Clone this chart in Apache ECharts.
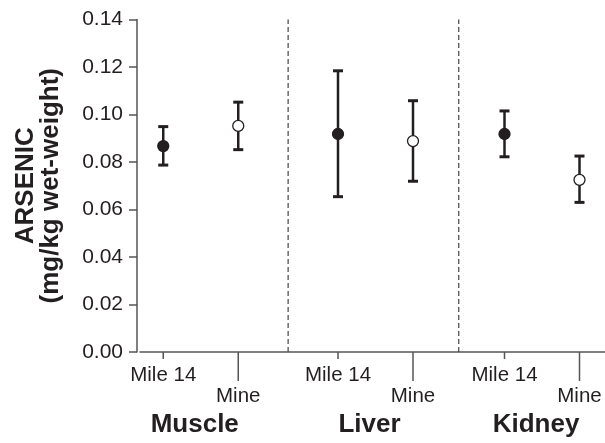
<!DOCTYPE html>
<html>
<head>
<meta charset="utf-8">
<script src="https://cdn.jsdelivr.net/npm/echarts@6/dist/echarts.min.js"></script>
<style>html,body{margin:0;padding:0;background:#fff}#c{width:605px;height:443px}</style>
</head>
<body>
<div id="c"></div>
<script>
// ---- data ----
var categories = ['Mile 14', 'Mine', 'Mile 14', 'Mine', 'Mile 14', 'Mine'];
var groups = ['Muscle', 'Liver', 'Kidney'];
var groupOf = [0, 0, 1, 1, 2, 2];
var xPositions = [1, 2, 3.33, 4.33, 5.55, 6.55];
var means = [0.0867, 0.0952, 0.0918, 0.0888, 0.0918, 0.0725];
var upper = [0.0949, 0.1052, 0.1184, 0.1058, 0.1015, 0.0825];
var lower = [0.0787, 0.0852, 0.0654, 0.0719, 0.0822, 0.0630];
var yTicks = [0, 0.02, 0.04, 0.06, 0.08, 0.10, 0.12, 0.14];

var FONT = "'Liberation Sans', Arial, Helvetica, sans-serif";
var INK = '#231f20';
var AXIS = '#555555';

var chart = echarts.init(document.getElementById('c'), null, {renderer: 'canvas'});

var barData = xPositions.map(function (x, i) {
  return [x, means[i], lower[i], upper[i], categories[i] === 'Mine' ? 0 : 1];
});
var tickData = xPositions.map(function (x, i) {
  return [x, categories[i] === 'Mine' ? 1 : 0, i];
});
var groupData = groups.map(function (g, gi) {
  var xs = xPositions.filter(function (x, i) { return groupOf[i] === gi; });
  return [(xs[0] + xs[xs.length - 1]) / 2, gi];
});
var dividerData = [];
for (var i = 1; i < xPositions.length; i++) {
  if (groupOf[i] !== groupOf[i - 1]) dividerData.push([(xPositions[i - 1] + xPositions[i]) / 2]);
}

var option = {
  animation: false,
  backgroundColor: '#fff',
  grid: {left: 140, right: 0, top: 19.5, bottom: 91},
  xAxis: {
    type: 'value', min: 0.69, max: 6.89,
    axisLine: {show: true, onZero: false, lineStyle: {color: AXIS, width: 1.5}},
    axisTick: {show: false}, axisLabel: {show: false}, splitLine: {show: false}
  },
  yAxis: {
    type: 'value', min: yTicks[0], max: yTicks[yTicks.length - 1], interval: 0.02,
    offset: 3,
    axisLine: {show: true, lineStyle: {color: AXIS, width: 1.5}},
    axisTick: {show: true, inside: false, length: 8, lineStyle: {color: AXIS, width: 1.5}},
    axisLabel: {
      margin: 14, fontSize: 21, color: INK, fontFamily: FONT,
      formatter: function (v) { return v.toFixed(2); }
    },
    splitLine: {show: false},
    name: 'ARSENIC\n(mg/kg wet-weight)',
    nameLocation: 'middle', nameRotate: 90, nameGap: 74,
    nameTextStyle: {fontSize: 26, fontWeight: 'bold', color: INK, fontFamily: FONT, lineHeight: 25, align: 'center'}
  },
  series: [
    {
      type: 'custom', coordinateSystem: 'cartesian2d', clip: false, silent: true,
      data: dividerData,
      renderItem: function (params, api) {
        var b = api.coord([api.value(0), yTicks[0]]);
        var t = api.coord([api.value(0), yTicks[yTicks.length - 1]]);
        return {type: 'line', shape: {x1: b[0], y1: b[1], x2: t[0], y2: t[1]},
          style: {stroke: '#444', lineWidth: 1.2, lineDash: [5, 3]}};
      }
    },
    {
      type: 'custom', coordinateSystem: 'cartesian2d', clip: false, silent: true,
      data: tickData,
      renderItem: function (params, api) {
        var p = api.coord([api.value(0), 0]);
        var isMine = api.value(1) === 1;
        var len = isMine ? 29 : 7;
        return {type: 'group', children: [
          {type: 'line', shape: {x1: p[0], y1: p[1], x2: p[0], y2: p[1] + len},
            style: {stroke: AXIS, lineWidth: 1.5}},
          {type: 'text', style: {text: categories[api.value(2)], x: p[0], y: p[1] + (isMine ? 44 : 23),
            align: 'center', verticalAlign: 'middle', fontSize: 20.5, fontFamily: FONT, fill: INK}}
        ]};
      }
    },
    {
      type: 'custom', coordinateSystem: 'cartesian2d', clip: false, silent: true,
      data: groupData,
      renderItem: function (params, api) {
        var p = api.coord([api.value(0), 0]);
        return {type: 'text', style: {text: groups[api.value(1)], x: p[0] - 6, y: p[1] + 73,
          align: 'center', verticalAlign: 'middle', fontSize: 26, fontWeight: 'bold', fontFamily: FONT, fill: INK}};
      }
    },
    {
      type: 'custom', coordinateSystem: 'cartesian2d', clip: false, silent: true,
      data: barData,
      renderItem: function (params, api) {
        var x = api.value(0);
        var m = api.coord([x, api.value(1)]);
        var lo = api.coord([x, api.value(2)]);
        var hi = api.coord([x, api.value(3)]);
        var filled = api.value(4) === 1;
        var cw = 5;
        return {type: 'group', children: [
          {type: 'line', shape: {x1: lo[0], y1: lo[1], x2: hi[0], y2: hi[1]}, style: {stroke: INK, lineWidth: 2.5}},
          {type: 'line', shape: {x1: hi[0] - cw, y1: hi[1], x2: hi[0] + cw, y2: hi[1]}, style: {stroke: INK, lineWidth: 3}},
          {type: 'line', shape: {x1: lo[0] - cw, y1: lo[1], x2: lo[0] + cw, y2: lo[1]}, style: {stroke: INK, lineWidth: 3}},
          {type: 'circle', shape: {cx: m[0], cy: m[1], r: 5.5},
            style: {fill: filled ? INK : '#ffffff', stroke: INK, lineWidth: 1.3}}
        ]};
      }
    }
  ]
};
chart.setOption(option);
</script>
</body>
</html>
